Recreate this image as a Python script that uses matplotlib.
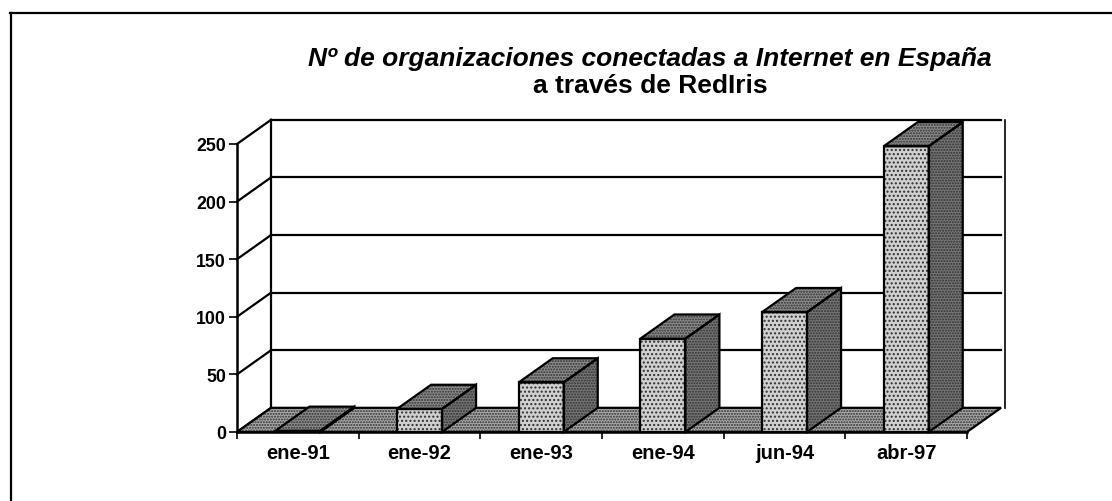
import matplotlib.pyplot as plt
from matplotlib.patches import Polygon
from matplotlib.lines import Line2D

plt.rcParams["font.family"] = ["Liberation Sans", "DejaVu Sans"]

categories = ["ene-91", "ene-92", "ene-93", "ene-94", "jun-94", "abr-97"]
organizaciones = [1, 20, 43, 81, 104, 248]
y_ticks = [0, 50, 100, 150, 200, 250]
title_1 = "Nº de organizaciones conectadas a Internet en España"
title_2 = "a través de RedIris"

# oblique depth of the fake 3d box (category units, value units)
DX, DZ = 0.28, 21
BAR_W = 0.37


def shaded_poly(ax, pts, face, hatch, z):
    ax.add_patch(Polygon(pts, closed=True, facecolor=face, edgecolor="#303030",
                         hatch=hatch, lw=0, zorder=z, clip_on=False))
    ax.add_patch(Polygon(pts, closed=True, fill=False, edgecolor="black",
                         lw=1.6, zorder=z + 0.1, clip_on=False, joinstyle="miter"))


fig = plt.figure(figsize=(11.12, 5.02), dpi=100)
ax = fig.add_axes([237 / 1112, 69 / 502, 730 / 1112, 288 / 502])
n = len(categories)
ax.set_xlim(0, n)
ax.set_ylim(0, y_ticks[-1])

# floor
shaded_poly(ax, [(0, 0), (n, 0), (n + DX, DZ), (DX, DZ)], "#a8a8a8", "......", 2)

# walls and grid
kw = dict(color="black", lw=1.6, clip_on=False, zorder=1)
for v in y_ticks[1:]:
    ax.plot([DX, n + DX], [v + DZ, v + DZ], **kw)
for v in y_ticks:
    ax.plot([0, DX], [v, v + DZ], **kw)
ax.plot([DX, DX], [DZ, y_ticks[-1] + DZ], **kw)
ax.plot([n + DX + 0.03, n + DX + 0.03], [DZ, y_ticks[-1] + DZ], color="black",
        lw=1.2, clip_on=False, zorder=1)

# bars
for i, v in enumerate(organizaciones):
    x0 = i + 0.5 - BAR_W / 2
    x1 = x0 + BAR_W
    shaded_poly(ax, [(x0, 0), (x1, 0), (x1, v), (x0, v)], "#d0d0d0", "....", 3 + i)
    shaded_poly(ax, [(x1, 0), (x1 + DX, DZ), (x1 + DX, v + DZ), (x1, v)],
                "#767676", "......", 3 + i)
    shaded_poly(ax, [(x0, v), (x1, v), (x1 + DX, v + DZ), (x0 + DX, v + DZ)],
                "#8c8c8c", "......", 3 + i)

for s in ["top", "right"]:
    ax.spines[s].set_visible(False)
ax.spines["left"].set_linewidth(1.8)
ax.spines["bottom"].set_linewidth(1.8)
ax.spines["left"].set_zorder(20)
ax.spines["bottom"].set_zorder(20)
ax.set_facecolor("none")

ax.set_yticks(y_ticks)
ax.set_yticklabels([str(t) for t in y_ticks], fontweight="bold", fontsize=12.8)
ax.tick_params(axis="y", direction="out", length=6, width=1.2, pad=2)
ax.set_xticks(range(n + 1))
ax.set_xticklabels([])
ax.set_xticks([i + 0.5 for i in range(n)], minor=True)
ax.set_xticklabels(categories, minor=True, fontweight="bold", fontsize=14.5)
ax.tick_params(axis="x", which="major", direction="out", length=5, width=1.2)
ax.tick_params(axis="x", which="minor", length=0, pad=8)

fig.text(650 / 1112, 1 - 66 / 502, title_1, ha="center", va="baseline", fontsize=19,
         fontweight="bold", fontstyle="italic")
fig.text(650 / 1112, 1 - 93 / 502, title_2, ha="center", va="baseline", fontsize=19,
         fontweight="bold")

# outer frame (top and left edges visible in the scan)
fig.add_artist(Line2D([10 / 1112, 1], [1 - 14 / 502, 1 - 14 / 502], color="black", lw=1.6))
fig.add_artist(Line2D([11 / 1112, 11 / 1112], [0, 1 - 14 / 502], color="black", lw=1.6))

fig.savefig("out.png", dpi=100)
